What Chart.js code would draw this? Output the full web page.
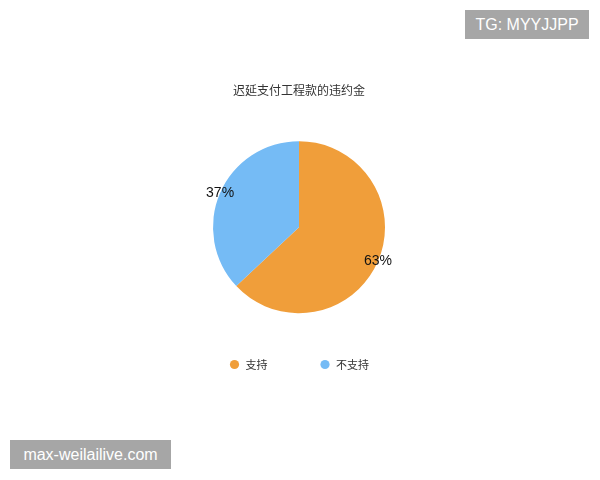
<!DOCTYPE html>
<html>
<head>
<meta charset="utf-8">
<script src="https://cdn.jsdelivr.net/npm/chart.js@4/dist/chart.umd.min.js"></script>
<style>
  html, body { margin: 0; padding: 0; background: #fff; }
  #wrap { position: relative; width: 600px; height: 480px; }
  .mark {
    position: absolute;
    background: #a6a6a6;
    color: #fff;
    font-family: "Liberation Sans", Arial, sans-serif;
    font-size: 16px;
    line-height: 29px;
    text-align: center;
  }
</style>
</head>
<body>
<div id="wrap">
  <canvas id="chart" width="600" height="480"></canvas>
  <div class="mark" style="left:465px; top:10px; width:124px; height:29px;">TG: MYYJJPP</div>
  <div class="mark" style="left:10px; top:440px; width:161px; height:29px;">max-weilailive.com</div>
</div>
<script>
const TITLE = '迟延支付工程款的违约金';
const LABELS = ['支持', '不支持'];
const VALUES = [63, 37];
const COLORS = ['#f09e3a', '#75bbf5'];

// percent text sitting on the rim of each slice
const rimLabels = {
  id: 'rimLabels',
  afterDatasetsDraw(chart) {
    const ctx = chart.ctx;
    const meta = chart.getDatasetMeta(0);
    const total = VALUES.reduce((a, b) => a + b, 0);
    ctx.save();
    ctx.font = '14px "Liberation Sans", Arial, sans-serif';
    ctx.fillStyle = '#111';
    ctx.textAlign = 'center';
    ctx.textBaseline = 'middle';
    meta.data.forEach((arc, i) => {
      const p = arc.getProps(['x', 'y', 'startAngle', 'endAngle', 'outerRadius'], true);
      const mid = (p.startAngle + p.endAngle) / 2;
      const tx = p.x + Math.cos(mid) * p.outerRadius;
      const ty = p.y + Math.sin(mid) * p.outerRadius;
      ctx.fillText(Math.round(VALUES[i] / total * 100) + '%', tx, ty);
    });
    ctx.restore();
  }
};

new Chart(document.getElementById('chart'), {
  type: 'pie',
  data: {
    labels: LABELS,
    datasets: [{
      data: VALUES,
      backgroundColor: COLORS,
      borderWidth: 0,
      radius: 86,
      clip: false
    }]
  },
  options: {
    responsive: false,
    animation: false,
    layout: { padding: { left: 0, right: 2, top: 0, bottom: 100 } },
    plugins: {
      title: {
        display: true,
        text: TITLE,
        color: '#333',
        font: { family: '"Noto Sans CJK SC", sans-serif', size: 12, weight: 'normal' },
        padding: { top: 83, bottom: 50 }
      },
      legend: {
        position: 'bottom',
        labels: {
          usePointStyle: true,
          pointStyle: 'circle',
          boxWidth: 11,
          boxHeight: 6.5,
          padding: 52,
          color: '#333',
          font: { family: '"Noto Sans CJK SC", sans-serif', size: 11 }
        }
      },
      tooltip: { enabled: false }
    }
  },
  plugins: [rimLabels]
});
</script>
</body>
</html>
